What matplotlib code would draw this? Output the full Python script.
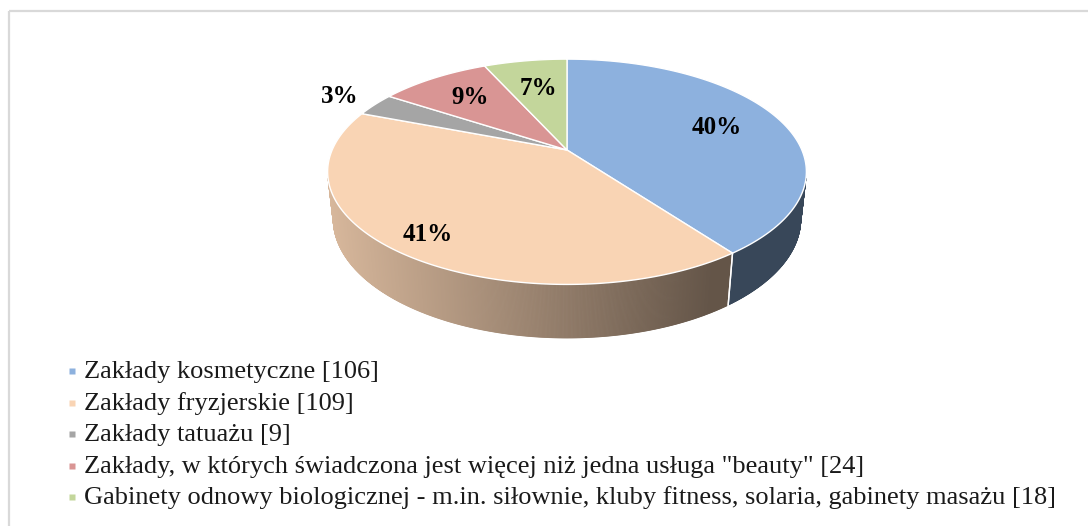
import numpy as np
import matplotlib
matplotlib.use("Agg")
import matplotlib.pyplot as plt
from matplotlib.patches import Polygon, Rectangle
from matplotlib.colors import to_rgb

# Data
names = [
    "Zakłady kosmetyczne",
    "Zakłady fryzjerskie",
    "Zakłady tatuażu",
    'Zakłady, w których świadczona jest więcej niż jedna usługa "beauty"',
    "Gabinety odnowy biologicznej - m.in. siłownie, kluby fitness, solaria, gabinety masażu",
]
counts = [106, 109, 9, 24, 18]
colors = ["#8db1de", "#f9d4b4", "#a5a5a5", "#d99594", "#c3d69b"]

# where each percentage label sits (fraction of radius)
label_r = [0.7, 0.85, 1.2, 0.7, 0.65]

# 3d view of the pie (pixel space)
cx, cy = 567, 150
elev = np.radians(27.5)
c, s = np.cos(elev), np.sin(elev)
D = 4.59
F = 1078
H = 0.228


def proj(phi, r, z):
    x = r * np.sin(phi)
    y = r * np.cos(phi)
    v = z * c + y * s
    w = D + y * c - z * s
    return cx + F * x / w, cy - F * v / w


def side_color(base, px):
    # darker to the right, like the excel shading
    k = 0.86 - (px - 330) / 400 * 0.48
    k = max(min(k, 0.9), 0.4)
    return tuple(ch * k for ch in to_rgb(base))


fig = plt.figure(figsize=(10.88, 5.26), dpi=100)
ax = fig.add_axes([0, 0, 1, 1])
ax.set_xlim(0, 1088)
ax.set_ylim(526, 0)
ax.axis("off")

# chart area border (only top and left edge inside the picture)
ax.add_patch(Rectangle((9, 11), 1200, 600, fill=False, ec="#d9d9d9", lw=1.6, clip_on=False))

total = sum(counts)
fracs = np.array(counts) / total
edges = np.concatenate([[0], np.cumsum(fracs)]) * 2 * np.pi

# visible part of the outer wall
lim = np.arccos(-1 / (D * c))
vis_a, vis_b = lim, 2 * np.pi - lim

# side walls
for i in range(len(counts)):
    a = max(edges[i], vis_a)
    b = min(edges[i + 1], vis_b)
    if b <= a:
        continue
    ts = np.linspace(a, b, int((b - a) / 0.004) + 2)
    for t0, t1 in zip(ts[:-1], ts[1:]):
        x0, y0 = proj(t0, 1, 0)
        x1, y1 = proj(t1, 1, 0)
        x2, y2 = proj(t1, 1, -H)
        x3, y3 = proj(t0, 1, -H)
        col = side_color(colors[i], (x0 + x1) / 2)
        ax.add_patch(Polygon([(x0, y0), (x1, y1), (x2, y2), (x3, y3)],
                             closed=True, fc=col, ec=col, lw=0.6))
    # white seam at the slice boundary
    for t in (a, b):
        if vis_a < t < vis_b:
            xa, ya = proj(t, 1, 0)
            xb, yb = proj(t, 1, -H)
            ax.plot([xa, xb], [ya, yb], color="white", lw=1.0)

# top faces
for i in range(len(counts)):
    ts = np.linspace(edges[i], edges[i + 1], 200)
    pts = [proj(0, 0, 0)] + [proj(t, 1, 0) for t in ts]
    ax.add_patch(Polygon(pts, closed=True, fc=colors[i], ec="white", lw=1.0))

# percentage labels
for i, v in enumerate(counts):
    mid = (edges[i] + edges[i + 1]) / 2
    lx, ly = proj(mid, label_r[i], 0)
    ax.text(lx, ly, f"{round(100 * v / total)}%", ha="center", va="center",
            fontsize=18, fontweight="bold", family="Liberation Serif", color="black")

# legend
for i, (nm, v) in enumerate(zip(names, counts)):
    yy = 371 + i * 31.5
    ax.plot(72, yy, "s", ms=5, color=colors[i], mec="none")
    ax.text(84, yy + 1, f"{nm} [{v}]", ha="left", va="center",
            fontsize=19, family="Liberation Serif", color="#1a1a1a")

fig.savefig("out.png", dpi=100)
